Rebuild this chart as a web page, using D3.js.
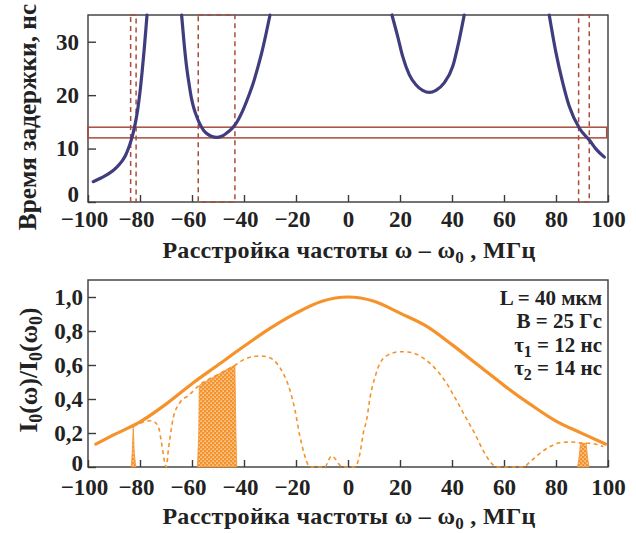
<!DOCTYPE html>
<html>
<head>
<meta charset="utf-8">
<script src="https://cdn.jsdelivr.net/npm/d3@7"></script>
<style>
  body { margin: 0; background: #fff; }
  svg text { font-family: "Liberation Serif", "DejaVu Serif", serif; font-weight: bold; fill: #222; }
</style>
</head>
<body>
<svg id="chart"></svg>
<script>
// ---- data ----
const xTicks = [-100, -80, -60, -40, -20, 0, 20, 40, 60, 80, 100];
const delayTicks = [0, 10, 20, 30];
const intensityTicks = [0, 0.2, 0.4, 0.6, 0.8, 1.0];

// delay time (ns) vs detuning (MHz), four branches
const delayBranch1 = [[-98, 3.8], [-95, 4.5], [-92, 5.3], [-89, 6.5], [-87, 7.6], [-85.5, 8.8], [-84.4, 10.1], [-83.5, 11.4], [-82.6, 13.0], [-81.7, 15.0], [-80.8, 17.6], [-80, 20.6], [-79.2, 24.3], [-78.4, 28.5], [-77.7, 32.6], [-77.3, 35]];
const delayBranch2 = [[-64, 35], [-63, 29.5], [-62.1, 25.4], [-61.1, 22], [-60.2, 19.4], [-59.2, 17.4], [-58.2, 16], [-56.9, 14.5], [-55.5, 13.4], [-54, 12.7], [-52.3, 12.25], [-50.5, 12.1], [-48.6, 12.3], [-46.7, 12.9], [-45, 13.6], [-43.5, 14.4], [-42, 15.6], [-40.3, 17.3], [-38.4, 19.6], [-36.4, 22.3], [-34.8, 25], [-33.2, 27.9], [-31.6, 31.3], [-30, 35]];
const delayBranch3 = [[16.9, 35], [19.1, 31], [21, 27.3], [23.6, 23.8], [26.2, 21.9], [28.7, 20.9], [31.3, 20.5], [33.8, 20.9], [37, 22.3], [40.3, 25.4], [42.8, 30.4], [44.7, 35]];
const delayBranch4 = [[77.4, 35], [80, 27.9], [82.6, 22.3], [85.1, 17.9], [89, 13.8], [92.8, 11.6], [95.4, 9.9], [98.6, 8.4]];

const tau1 = 12, tau2 = 14;
// detuning windows where delay is between tau1 and tau2
const windows = [[-83.6, -81.5], [-57.6, -43.5], [88.7, 92.8]];

// input spectrum (solid) and output spectrum (dashed)
const inputSpectrum = [[-97, 0.135], [-90, 0.19], [-80, 0.265], [-70, 0.37], [-60, 0.49], [-50, 0.60], [-40, 0.71], [-30, 0.815], [-20, 0.905], [-10, 0.975], [0, 1.0], [10, 0.975], [20, 0.905], [30, 0.83], [40, 0.72], [50, 0.60], [60, 0.48], [70, 0.37], [80, 0.27], [90, 0.198], [99, 0.135]];
const outputSpectrum = [[-82.6, 0.24], [-80, 0.257], [-77.5, 0.27], [-75.5, 0.272], [-73, 0.24], [-71.7, 0.14], [-70.4, 0.02], [-69.9, 0], [-69.1, 0.10], [-68, 0.22], [-67.2, 0.29], [-64.6, 0.38], [-61.4, 0.42], [-57.3, 0.48], [-50.5, 0.54], [-43.3, 0.60], [-40.3, 0.63], [-37, 0.648], [-33.8, 0.653], [-30.5, 0.645], [-28.7, 0.63], [-24.9, 0.55], [-22.3, 0.45], [-20.4, 0.335], [-18.5, 0.18], [-16.5, 0.06], [-15.3, 0.01], [-14.6, 0], [-8.8, 0], [-7.5, 0.04], [-6.3, 0.065], [-5, 0.05], [-3.7, 0.02], [-1.8, 0], [2.7, 0], [4.6, 0.08], [5.9, 0.2], [7.2, 0.28], [8.5, 0.41], [10.4, 0.53], [12.3, 0.61], [15.5, 0.66], [20, 0.678], [23.8, 0.675], [29, 0.64], [34.1, 0.57], [38, 0.49], [41.8, 0.39], [45.7, 0.28], [49, 0.19], [52.2, 0.09], [55.3, 0.02], [57.2, 0], [67.4, 0], [70, 0.03], [73.8, 0.08], [77.7, 0.12], [81.5, 0.143], [86, 0.147], [89, 0.142], [92, 0.14], [95, 0.135], [98.2, 0.12]];

// transmitted (hatched) parts
const hatch1 = [[-83.4, 0], [-83.0, 0.08], [-82.6, 0.24], [-82.2, 0.08], [-81.6, 0]];
const hatch2 = [[-57.9, 0], [-57.4, 0.2], [-57.2, 0.48], [-50.5, 0.54], [-43.5, 0.60], [-43.1, 0.2], [-42.8, 0]];
const hatch3 = [[88.3, 0], [88.9, 0.06], [89.4, 0.139], [91.6, 0.139], [92.1, 0.06], [92.7, 0]];

const legendLines = [
  { main: "L = 40 мкм" },
  { main: "B = 25 Гс" },
  { main: "τ", sub: "1", rest: " = 12 нс" },
  { main: "τ", sub: "2", rest: " = 14 нс" }
];

// ---- drawing ----
const W = 636, H = 533;
const navy = "#403d7e", brick = "#a84c3c", orange = "#f5922a", frameCol = "#3a3a3a";
const serif = "'Liberation Serif', 'DejaVu Serif', serif";

const svg = d3.select("#chart").attr("width", W).attr("height", H);

const x = d3.scaleLinear().domain([-100, 100]).range([88, 608]);
const yTop = d3.scaleLinear().domain([0, 35]).range([202, 15]);
const yBot = d3.scaleLinear().domain([0, 1.1]).range([467, 280]);

const defs = svg.append("defs");
const pat = defs.append("pattern")
  .attr("id", "hatch")
  .attr("patternUnits", "userSpaceOnUse")
  .attr("width", 4).attr("height", 4);
pat.append("rect").attr("width", 4).attr("height", 4).attr("fill", orange);
pat.append("rect").attr("x", 0.5).attr("y", 0.5).attr("width", 1.2).attr("height", 1.2).attr("fill", "#fff");
pat.append("rect").attr("x", 2.5).attr("y", 2.5).attr("width", 1.2).attr("height", 1.2).attr("fill", "#fff");

const fmtX = d => (d < 0 ? "\u2212" + (-d) : "" + d);

function frame(yScale) {
  const [y0, y1] = yScale.range();
  svg.append("rect")
    .attr("x", x.range()[0]).attr("y", y1)
    .attr("width", x.range()[1] - x.range()[0])
    .attr("height", y0 - y1)
    .attr("fill", "none")
    .attr("stroke", frameCol)
    .attr("stroke-width", 1.4);
}

function axes(yScale, yTickVals, yFmt, xPad, yPad) {
  const gx = svg.append("g")
    .attr("transform", `translate(0, ${yScale.range()[0]})`)
    .call(d3.axisBottom(x).tickValues(xTicks).tickFormat(fmtX).tickSizeInner(-7).tickSizeOuter(0).tickPadding(xPad));
  const gy = svg.append("g")
    .attr("transform", `translate(${x.range()[0]}, 0)`)
    .call(d3.axisLeft(yScale).tickValues(yTickVals).tickFormat(yFmt).tickSizeInner(-8).tickSizeOuter(0).tickPadding(yPad));
  [gx, gy].forEach(g => {
    g.attr("font-family", serif);
    g.select(".domain").remove();
    g.selectAll(".tick line").attr("stroke", frameCol).attr("stroke-width", 1.4);
    g.selectAll(".tick text")
      .attr("font-size", 23)
      .attr("fill", "#222");
  });
  // negative labels sit a little left of their tick
  gx.selectAll(".tick text").filter(d => d < 0).attr("dx", -4);
  return gy;
}

function axisTitle(xPos, yPos, rotate, size, parts) {
  const t = svg.append("text")
    .attr("transform", `translate(${xPos}, ${yPos})${rotate ? " rotate(-90)" : ""}`)
    .attr("text-anchor", "middle")
    .attr("font-size", size);
  parts.forEach(p => {
    t.append("tspan")
      .attr("dy", p.dy || 0)
      .attr("font-size", p.sub ? Math.round(size * 0.7) : null)
      .text(p.t);
  });
  return t;
}

// ---- top panel: delay time ----
frame(yTop);
const gyTop = axes(yTop, delayTicks, d => d, 9, 9);
gyTop.selectAll(".tick text").filter(d => d === 0).attr("dy", "-0.02em");

// tau band
svg.append("rect")
  .attr("x", x(-100)).attr("y", yTop(tau2))
  .attr("width", x(99.5) - x(-100))
  .attr("height", yTop(tau1) - yTop(tau2))
  .attr("fill", "none")
  .attr("stroke", brick)
  .attr("stroke-width", 1.5);

// detuning windows
svg.selectAll(".window")
  .data(windows)
  .enter()
  .append("rect")
  .attr("class", "window")
  .attr("x", d => x(d[0]))
  .attr("y", yTop(35))
  .attr("width", d => x(d[1]) - x(d[0]))
  .attr("height", yTop(0) - yTop(35))
  .attr("fill", "none")
  .attr("stroke", brick)
  .attr("stroke-width", 1.5)
  .attr("stroke-dasharray", "5,4");

const delayLine = d3.line()
  .x(d => x(d[0]))
  .y(d => yTop(d[1]))
  .curve(d3.curveMonotoneX);

svg.selectAll(".branch")
  .data([delayBranch1, delayBranch2, delayBranch3, delayBranch4])
  .enter()
  .append("path")
  .attr("class", "branch")
  .attr("d", delayLine)
  .attr("fill", "none")
  .attr("stroke", navy)
  .attr("stroke-width", 3.2)
  .attr("stroke-linecap", "round");

axisTitle(36, 117, true, 25.3, [{ t: "Время задержки, нс" }]);
axisTitle(349, 258, false, 24, [
  { t: "Расстройка частоты ω – ω" },
  { t: "0", sub: true, dy: 5 },
  { t: " , МГц", dy: -5 }
]).attr("letter-spacing", 0.3);

// ---- bottom panel: spectra ----
frame(yBot);
const gyBot = axes(yBot, intensityTicks, d => (d === 0 ? "0" : d.toFixed(1).replace(".", ",")), 12, 5);
gyBot.selectAll(".tick text").filter(d => d === 0).attr("dy", "0.13em");

const hatchArea = d3.area()
  .x(d => x(d[0]))
  .y0(yBot(0))
  .y1(d => yBot(d[1]));

svg.selectAll(".hatch")
  .data([hatch1, hatch2, hatch3])
  .enter()
  .append("path")
  .attr("class", "hatch")
  .attr("d", hatchArea)
  .attr("fill", "url(#hatch)")
  .attr("stroke", orange)
  .attr("stroke-width", 0.8);

const specLine = d3.line()
  .x(d => x(d[0]))
  .y(d => yBot(d[1]))
  .curve(d3.curveMonotoneX);

svg.append("path")
  .attr("d", specLine(outputSpectrum))
  .attr("fill", "none")
  .attr("stroke", orange)
  .attr("stroke-width", 1.6)
  .attr("stroke-dasharray", "4,3.5");

svg.append("path")
  .attr("d", specLine(inputSpectrum))
  .attr("fill", "none")
  .attr("stroke", orange)
  .attr("stroke-width", 3.2)
  .attr("stroke-linecap", "round");

axisTitle(37, 370, true, 25.5, [
  { t: "I" }, { t: "0", sub: true, dy: 5 }, { t: "(ω)/I", dy: -5 },
  { t: "0", sub: true, dy: 5 }, { t: "(ω", dy: -5 }, { t: "0", sub: true, dy: 5 }, { t: ")", dy: -5 }
]);
axisTitle(349, 524, false, 24, [
  { t: "Расстройка частоты ω – ω" },
  { t: "0", sub: true, dy: 5 },
  { t: " , МГц", dy: -5 }
]).attr("letter-spacing", 0.3);

// legend
const legend = svg.append("g").attr("font-size", 21);
legendLines.forEach((l, i) => {
  const t = legend.append("text")
    .attr("x", 602)
    .attr("y", 305 + i * 23.3)
    .attr("text-anchor", "end");
  t.append("tspan").text(l.main);
  if (l.sub) {
    t.append("tspan").attr("dy", 5).attr("font-size", 16).text(l.sub);
    t.append("tspan").attr("dy", -5).text(l.rest);
  }
});
</script>
</body>
</html>
